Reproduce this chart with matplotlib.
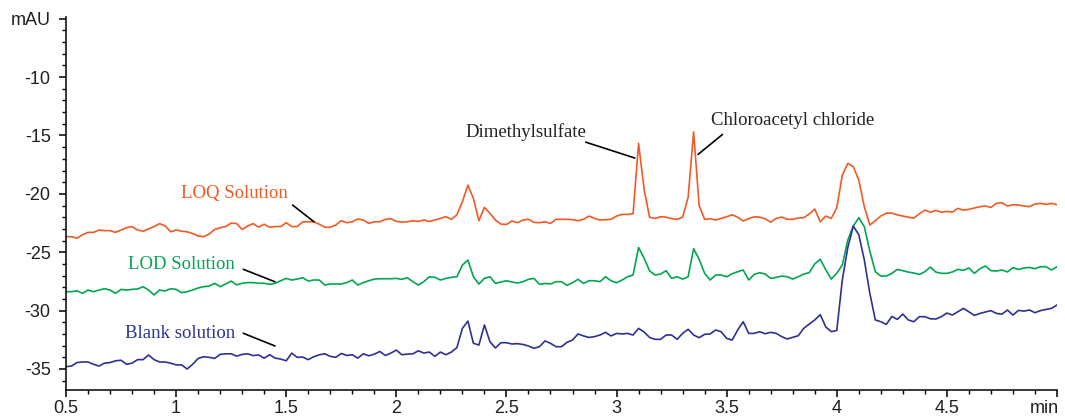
import numpy as np
import matplotlib
matplotlib.use('Agg')
import matplotlib.pyplot as plt
from matplotlib.ticker import MultipleLocator

# retention time grid (min), one sample every 0.025 min
time = np.arange(181) * 0.025 + 0.5

# LOQ solution (mAU)
loq = [-23.67, -23.67, -23.8, -23.5, -23.3, -23.3, -23.1, -23.15, -23.15, -23.3,
       -23.1, -22.9, -22.8, -23.1, -23.2, -23.0, -22.8, -22.55, -22.75, -23.25,
       -23.1, -23.2, -23.25, -23.4, -23.6, -23.67, -23.45, -23.05, -22.9, -22.8,
       -22.5, -22.55, -23.05, -22.75, -22.55, -22.85, -22.6, -22.86, -22.8, -22.8,
       -22.47, -22.8, -22.8, -22.39, -22.39, -22.39, -22.6, -22.86, -22.86, -22.67,
       -22.3, -22.47, -22.39, -22.15, -22.24, -22.53, -22.39, -22.39, -22.18, -22.13,
       -22.36, -22.42, -22.39, -22.3, -22.36, -22.24, -22.36, -22.24, -22.1, -21.95,
       -22.18, -21.8, -20.67, -19.25, -20.4, -22.3, -21.16, -21.67, -22.24, -22.59,
       -22.62, -22.33, -22.47, -22.24, -22.18, -22.44, -22.47, -22.39, -22.53, -22.18,
       -22.18, -22.18, -22.21, -22.3, -22.18, -21.9, -22.1, -22.24, -22.21, -22.18,
       -21.9, -21.76, -21.76, -21.7, -15.68, -19.6, -22.0, -22.1, -21.96, -22.0,
       -22.13, -22.18, -22.0, -20.3, -14.7, -21.0, -22.18, -22.13, -22.24, -22.1,
       -21.96, -21.79, -22.0, -22.33, -22.13, -21.96, -22.0, -22.13, -22.42, -22.1,
       -21.99, -22.18, -22.18, -22.07, -22.04, -21.73, -21.3, -22.39, -21.9, -22.1,
       -21.2, -18.4, -17.39, -17.67, -18.82, -21.1, -22.67, -22.3, -21.9, -21.65,
       -21.65, -21.8, -21.9, -22.0, -22.08, -21.7, -21.39, -21.57, -21.42, -21.57,
       -21.5, -21.56, -21.24, -21.39, -21.33, -21.21, -21.1, -21.04, -21.16, -20.81,
       -20.76, -21.04, -20.93, -20.96, -21.04, -21.1, -20.87, -20.81, -20.9, -20.81,
       -20.93]

# LOD solution (mAU)
lod = [-28.38, -28.38, -28.3, -28.52, -28.24, -28.38, -28.24, -28.12, -28.24, -28.52,
       -28.18, -28.24, -28.18, -28.15, -27.95, -28.24, -28.66, -28.24, -28.32, -28.12,
       -28.18, -28.46, -28.38, -28.24, -28.06, -27.95, -27.9, -27.66, -27.95, -27.72,
       -27.47, -27.8, -27.66, -27.6, -27.6, -27.66, -27.66, -27.75, -27.66, -27.44,
       -27.24, -27.38, -27.3, -27.18, -27.47, -27.38, -27.38, -27.81, -27.72, -27.72,
       -27.72, -27.6, -27.38, -27.81, -27.6, -27.44, -27.3, -27.27, -27.27, -27.27,
       -27.24, -27.32, -27.18, -27.52, -27.81, -27.52, -27.1, -27.15, -27.38, -27.24,
       -27.15, -27.1, -26.1, -25.67, -27.1, -27.72, -27.24, -27.1, -27.67, -27.55,
       -27.44, -27.55, -27.64, -27.52, -27.32, -27.24, -27.75, -27.67, -27.72, -27.52,
       -27.52, -27.84, -27.61, -27.32, -27.67, -27.44, -27.44, -27.52, -27.1, -27.44,
       -27.61, -27.38, -27.1, -26.95, -24.6, -25.5, -26.6, -26.95, -26.87, -26.58,
       -27.24, -27.1, -27.3, -27.1, -24.7, -25.6, -26.81, -27.38, -26.95, -26.95,
       -27.1, -26.84, -26.67, -26.52, -27.38, -26.9, -26.75, -26.87, -27.24, -27.15,
       -27.04, -27.1, -27.3, -27.1, -26.87, -26.75, -26.0, -25.6, -26.5, -27.3,
       -26.8, -26.1, -23.96, -22.76, -22.04, -22.81, -24.9, -26.67, -27.04, -27.04,
       -26.81, -26.47, -26.58, -26.7, -26.78, -26.9, -26.67, -26.27, -26.7, -26.81,
       -26.81, -26.69, -26.47, -26.55, -26.35, -26.81, -26.41, -26.18, -26.58, -26.61,
       -26.52, -26.69, -26.32, -26.47, -26.35, -26.3, -26.41, -26.24, -26.24, -26.52,
       -26.24]

# blank solution (mAU)
blank = [-34.8, -34.75, -34.45, -34.4, -34.4, -34.6, -34.75, -34.5, -34.45, -34.3,
         -34.25, -34.6, -34.5, -34.2, -34.2, -33.8, -34.2, -34.4, -34.4, -34.5,
         -34.65, -34.65, -35.0, -34.6, -34.1, -33.95, -34.0, -34.1, -33.75, -33.7,
         -33.7, -33.9, -33.75, -33.7, -33.85, -33.8, -34.07, -33.78, -34.07, -34.15,
         -34.3, -33.64, -34.0, -33.98, -34.2, -33.95, -33.78, -33.7, -33.92, -34.0,
         -33.67, -33.84, -33.78, -34.07, -33.7, -33.87, -33.73, -33.5, -33.84, -33.64,
         -33.38, -33.78, -33.73, -33.7, -33.44, -33.64, -33.55, -33.92, -33.55, -33.78,
         -33.55, -33.17, -31.52, -30.9, -32.8, -32.95, -31.23, -32.66, -33.2, -32.75,
         -32.75, -32.86, -32.83, -32.9, -33.03, -33.23, -33.09, -32.6, -32.8, -33.09,
         -33.09, -32.72, -32.52, -32.0, -32.17, -32.3, -32.23, -32.09, -31.86, -32.17,
         -31.95, -32.0, -31.95, -32.09, -31.52, -31.83, -32.3, -32.46, -32.46, -32.09,
         -32.09, -32.46, -31.95, -31.6, -32.09, -32.32, -32.03, -32.0, -31.66, -31.81,
         -32.38, -32.52, -31.66, -30.95, -31.95, -31.95, -31.81, -31.98, -31.86, -31.95,
         -32.23, -32.43, -32.29, -32.15, -31.52, -31.15, -30.8, -30.35, -31.4, -31.8,
         -31.7, -27.4, -24.6, -22.76, -23.5, -25.66, -28.5, -30.8, -30.95, -31.18,
         -30.5, -30.75, -30.3, -30.8, -30.95, -30.52, -30.52, -30.7, -30.72, -30.52,
         -30.21, -30.38, -30.1, -29.81, -30.1, -30.41, -30.24, -30.12, -30.0, -30.24,
         -30.3, -29.95, -30.38, -29.98, -30.04, -29.95, -30.18, -30.0, -29.9, -29.81,
         -29.52]

orange = '#f15a24'
green = '#00a651'
blue = '#2e3192'
dark = '#231f20'

plt.rcParams['font.family'] = ['Liberation Sans', 'DejaVu Sans']

fig = plt.figure(figsize=(10.65, 4.2), dpi=100)
ax = fig.add_axes([66/1065, 30/420, 991/1065, 373/420])

ax.plot(time, loq, color=orange, lw=1.2)
ax.plot(time, lod, color=green, lw=1.2)
ax.plot(time, blank, color=blue, lw=1.2)

ax.set_xlim(0.5, 5.0)
ax.set_ylim(-36.8, -4.85)

ax.spines['top'].set_visible(False)
ax.spines['right'].set_visible(False)
ax.spines['left'].set_linewidth(1.1)
ax.spines['bottom'].set_linewidth(1.1)

yt = [-35, -30, -25, -20, -15, -10, -5]
ax.set_yticks(yt)
ax.set_yticklabels(['-35', '-30', '-25', '-20', '-15', '-10', 'mAU'])
xt = [0.5, 1, 1.5, 2, 2.5, 3, 3.5, 4, 4.5, 5]
ax.set_xticks(xt)
ax.set_xticklabels(['0.5', '1', '1.5', '2', '2.5', '3', '3.5', '4', '4.5', ''])
ax.xaxis.set_minor_locator(MultipleLocator(0.1))
ax.yaxis.set_minor_locator(MultipleLocator(1))
ax.tick_params(which='major', length=5, width=1.1, direction='out', labelsize=13,
               labelcolor=dark)
ax.tick_params(axis='y', which='major', pad=6)
ax.tick_params(axis='x', which='major', pad=2)
ax.tick_params(which='minor', length=3, width=1.0, direction='out')
ax.annotate('min', xy=(4.944, 0), xycoords=('data', 'axes fraction'),
            xytext=(0, -7), textcoords='offset points', ha='center', va='top',
            fontsize=13, color=dark)

serif = ['Liberation Serif', 'DejaVu Serif']
line = dict(arrowstyle='-', color='black', lw=1.2, shrinkA=0, shrinkB=0)

# labels: (text, x, y baseline, ha, colour)
labels = [('Dimethylsulfate', 2.864, -15.11, 'right', dark),
          ('Chloroacetyl chloride', 3.431, -14.11, 'left', dark),
          ('LOQ Solution', 1.508, -20.33, 'right', orange),
          ('LOD Solution', 1.267, -26.46, 'right', green),
          ('Blank solution', 1.267, -32.37, 'right', blue)]
# leader lines: start -> end
leaders = [((2.86, -15.57), (3.083, -16.93)),
           ((3.481, -14.91), (3.370, -16.62)),
           ((1.529, -20.96), (1.626, -22.39)),
           ((1.305, -26.46), (1.449, -27.53)),
           ((1.305, -31.94), (1.449, -33.03))]

for txt, x, y, ha, c in labels:
    ax.text(x, y, txt, fontsize=13.5, family=serif, color=c, ha=ha, va='baseline')
for a, b in leaders:
    ax.annotate('', xy=b, xytext=a, arrowprops=line)

plt.savefig('out.png', dpi=100)
